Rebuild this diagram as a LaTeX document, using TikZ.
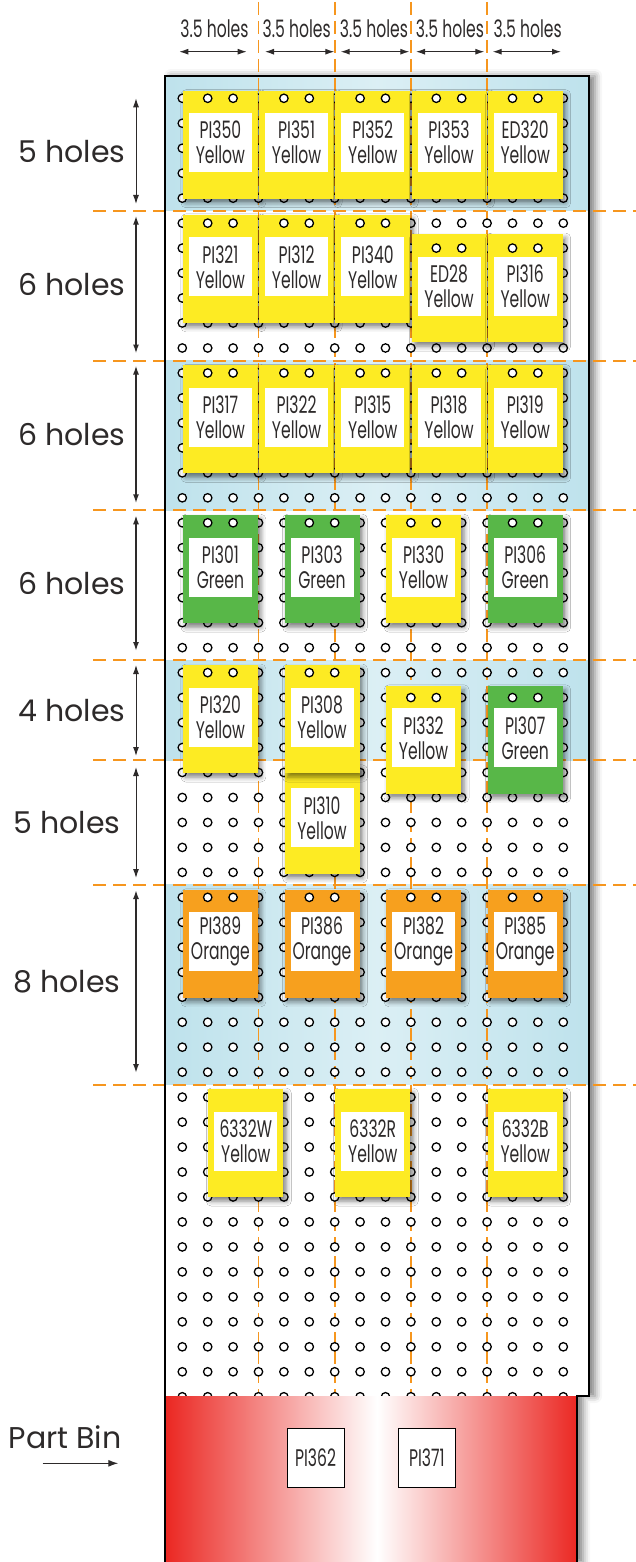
\documentclass[tikz,border=0pt]{standalone}
\usepackage{fontspec}
\setmainfont{Poppins}
\newfontfamily\condfont{Poppins}[FakeStretch=0.65]
\usetikzlibrary{arrows.meta, positioning, shadows.blur}
\usepackage{xcolor}
\definecolor{ink}{RGB}{45,42,42}
\definecolor{cardyellow}{RGB}{253,235,35}
\definecolor{cardgreen}{RGB}{88,183,72}
\definecolor{cardorange}{RGB}{247,160,30}
\definecolor{guideorange}{RGB}{246,150,30}
\definecolor{zoneblue}{RGB}{190,226,236}
\definecolor{binred}{RGB}{235,40,35}

\begin{document}
\begin{tikzpicture}[
    x=1pt, y=-1pt,
    card/.style={rectangle, minimum width=75pt, minimum height=108pt, inner sep=0pt, blur shadow={shadow xshift=3pt, shadow yshift=-4pt, shadow blur radius=5pt, shadow opacity=50}},
    tag/.style={rectangle, fill=white, minimum width=63pt, minimum height=59pt, inner sep=0pt, align=center, text=ink, font=\condfont\fontsize{24}{25}\selectfont},
    bintag/.style={tag, draw=black, line width=1pt, minimum width=57pt},
    hole/.style={draw=black, fill=white, line width=1.3pt},
    guide/.style={draw=guideorange, line width=2pt, dash pattern=on 13pt off 7pt},
    dim/.style={{Latex[length=9pt,width=6pt]}-{Latex[length=9pt,width=6pt]}, line width=1pt, draw=ink},
    dimthick/.style={dim, line width=1.6pt},
    rowlabel/.style={anchor=east, text=ink, font=\fontsize{30}{36}\selectfont},
    collabel/.style={text=ink, font=\condfont\fontsize{24}{26}\selectfont},
]

\useasboundingbox (0,0) rectangle (636,1562);

% Pegboard
\path[fill=white, blur shadow={shadow xshift=6pt, shadow yshift=0pt, shadow blur radius=7pt, shadow opacity=50}]
    (165,76) -- (589,76) -- (589,1396) -- (577,1396) -- (577,1562) -- (165,1562) -- cycle;

% Blue bands
\foreach \top/\bot in {76/210.7, 360.5/510.3, 660.1/760, 884.9/1084.6}
    \shade[left color=zoneblue, right color=zoneblue, middle color=zoneblue!55] (166,\top) rectangle (588,\bot);

% Guides
\foreach \x in {258.5, 334.7, 410.9, 487.1}
    \draw[guide, line width=1.8pt, dash pattern=on 13pt off 6pt] (\x,2) -- (\x,1396);
\foreach \y in {210.7, 360.5, 510.3, 660.1, 760, 884.9, 1084.6}
    \draw[guide] (93,\y) -- (636,\y);

\begin{scope}[shift={(182.3,98.3)}, x=25.4pt, y=-24.97pt]
% Holes
\foreach \r in {0,...,52}
    \foreach \c in {0,...,15}
        \draw[hole] (\c,\r) circle (4.2pt);

% Cards
\foreach \n/\cx/\cy/\col/\a/\b in {
    pi350/1.5/1.86/cardyellow/PI350/Yellow, pi351/4.5/1.86/cardyellow/PI351/Yellow,
    pi352/7.5/1.86/cardyellow/PI352/Yellow, pi353/10.5/1.86/cardyellow/PI353/Yellow,
    ed320/13.5/1.86/cardyellow/ED320/Yellow,
    pi321/1.5/6.83/cardyellow/PI321/Yellow, pi312/4.5/6.83/cardyellow/PI312/Yellow,
    pi340/7.5/6.83/cardyellow/PI340/Yellow, ed28/10.5/7.6/cardyellow/ED28/Yellow,
    pi316/13.5/7.6/cardyellow/PI316/Yellow,
    pi317/1.5/12.86/cardyellow/PI317/Yellow, pi322/4.5/12.86/cardyellow/PI322/Yellow,
    pi315/7.5/12.86/cardyellow/PI315/Yellow, pi318/10.5/12.86/cardyellow/PI318/Yellow,
    pi319/13.5/12.86/cardyellow/PI319/Yellow,
    pi301/1.5/18.86/cardgreen/PI301/Green, pi303/5.5/18.86/cardgreen/PI303/Green,
    pi330/9.5/18.86/cardyellow/PI330/Yellow, pi306/13.5/18.86/cardgreen/PI306/Green,
    pi310/5.5/28.9/cardyellow/PI310/Yellow,
    pi320/1.5/24.86/cardyellow/PI320/Yellow, pi308/5.5/24.86/cardyellow/PI308/Yellow,
    pi332/9.5/25.69/cardyellow/PI332/Yellow, pi307/13.5/25.69/cardgreen/PI307/Green,
    pi389/1.5/33.86/cardorange/PI389/Orange, pi386/5.5/33.86/cardorange/PI386/Orange,
    pi382/9.5/33.86/cardorange/PI382/Orange, pi385/13.5/33.86/cardorange/PI385/Orange,
    c6332w/2.5/41.84/cardyellow/6332W/Yellow, c6332r/7.5/41.84/cardyellow/6332R/Yellow,
    c6332b/13.5/41.84/cardyellow/6332B/Yellow}
{
    \node[card, fill=\col] (\n) at (\cx,\cy) {};
    \node[tag] (\n-tag) at ([yshift=2pt]\n.center) {\a\\\b};
}

% Hanging holes
\foreach \c/\r in {1/0, 4/0, 7/0, 10/0, 13/0, 1/5, 4/5, 7/5, 10/6, 13/6,
    1/11, 4/11, 7/11, 10/11, 13/11, 1/17, 5/17, 9/17, 13/17,
    1/23, 5/23, 9/24, 13/24, 1/32, 5/32, 9/32, 13/32}
{
    \draw[hole] (\c,\r) circle (4.2pt);
    \draw[hole] (\c+1,\r) circle (4.2pt);
}
\end{scope}

% Part bin
\shade[left color=binred, right color=white] (166,1396) rectangle (377,1562);
\shade[left color=white, right color=binred] (377,1396) rectangle (577,1562);
\node[bintag] (pi362) at (315.5,1457.8) {PI362};
\node[bintag] (pi371) at (426.8,1457.8) {PI371};

% Outline
\draw[line width=2.5pt, black] (165,1562) -- (165,76) -- (589,76) -- (589,1396) -- (577,1396) -- (577,1562);

% Column widths
\foreach \i/\a/\b/\m in {1/179.3/246.7/214.5, 2/265/334.3/296.7, 3/340.7/409.3/374, 4/416/484.3/450, 5/492.7/561/527.7}
{
    \node[collabel] (width\i) at (\m,28.3) {3.5 holes};
    \coordinate (wleft\i) at (\a,51.7);
    \coordinate (wright\i) at (\b,51.7);
    \draw[dim] (wleft\i) -- (wright\i);
}

% Row heights
\foreach \i/\t/\b/\ex/\n/\s in {1/98.3/204/129/5/dim, 2/215.7/353.5/129/6/dimthick, 3/365.5/503.3/129/6/dimthick,
    4/515.3/651/129/6/dimthick, 5/665/756/129/4/dim, 6/767/878/124/5/dim, 7/890/1073/124/8/dimthick}
{
    \coordinate (htop\i) at (136,\t);
    \coordinate (hbot\i) at (136,\b);
    \draw[\s] (htop\i) -- (hbot\i);
    \node[rowlabel] (height\i) at (\ex,{(\t+\b)/2}) {\n\ holes};
}

% Part bin label
\node[text=ink, font=\fontsize{30}{36}\selectfont] (binlabel) at (65,1437) {Part Bin};
\coordinate (binfrom) at (42.7,1463.3);
\coordinate (binto) at (118.3,1463.3);
\draw[-{Latex[length=10pt,width=7pt]}, line width=1.2pt, ink] (binfrom) -- (binto);

\end{tikzpicture}
\end{document}
